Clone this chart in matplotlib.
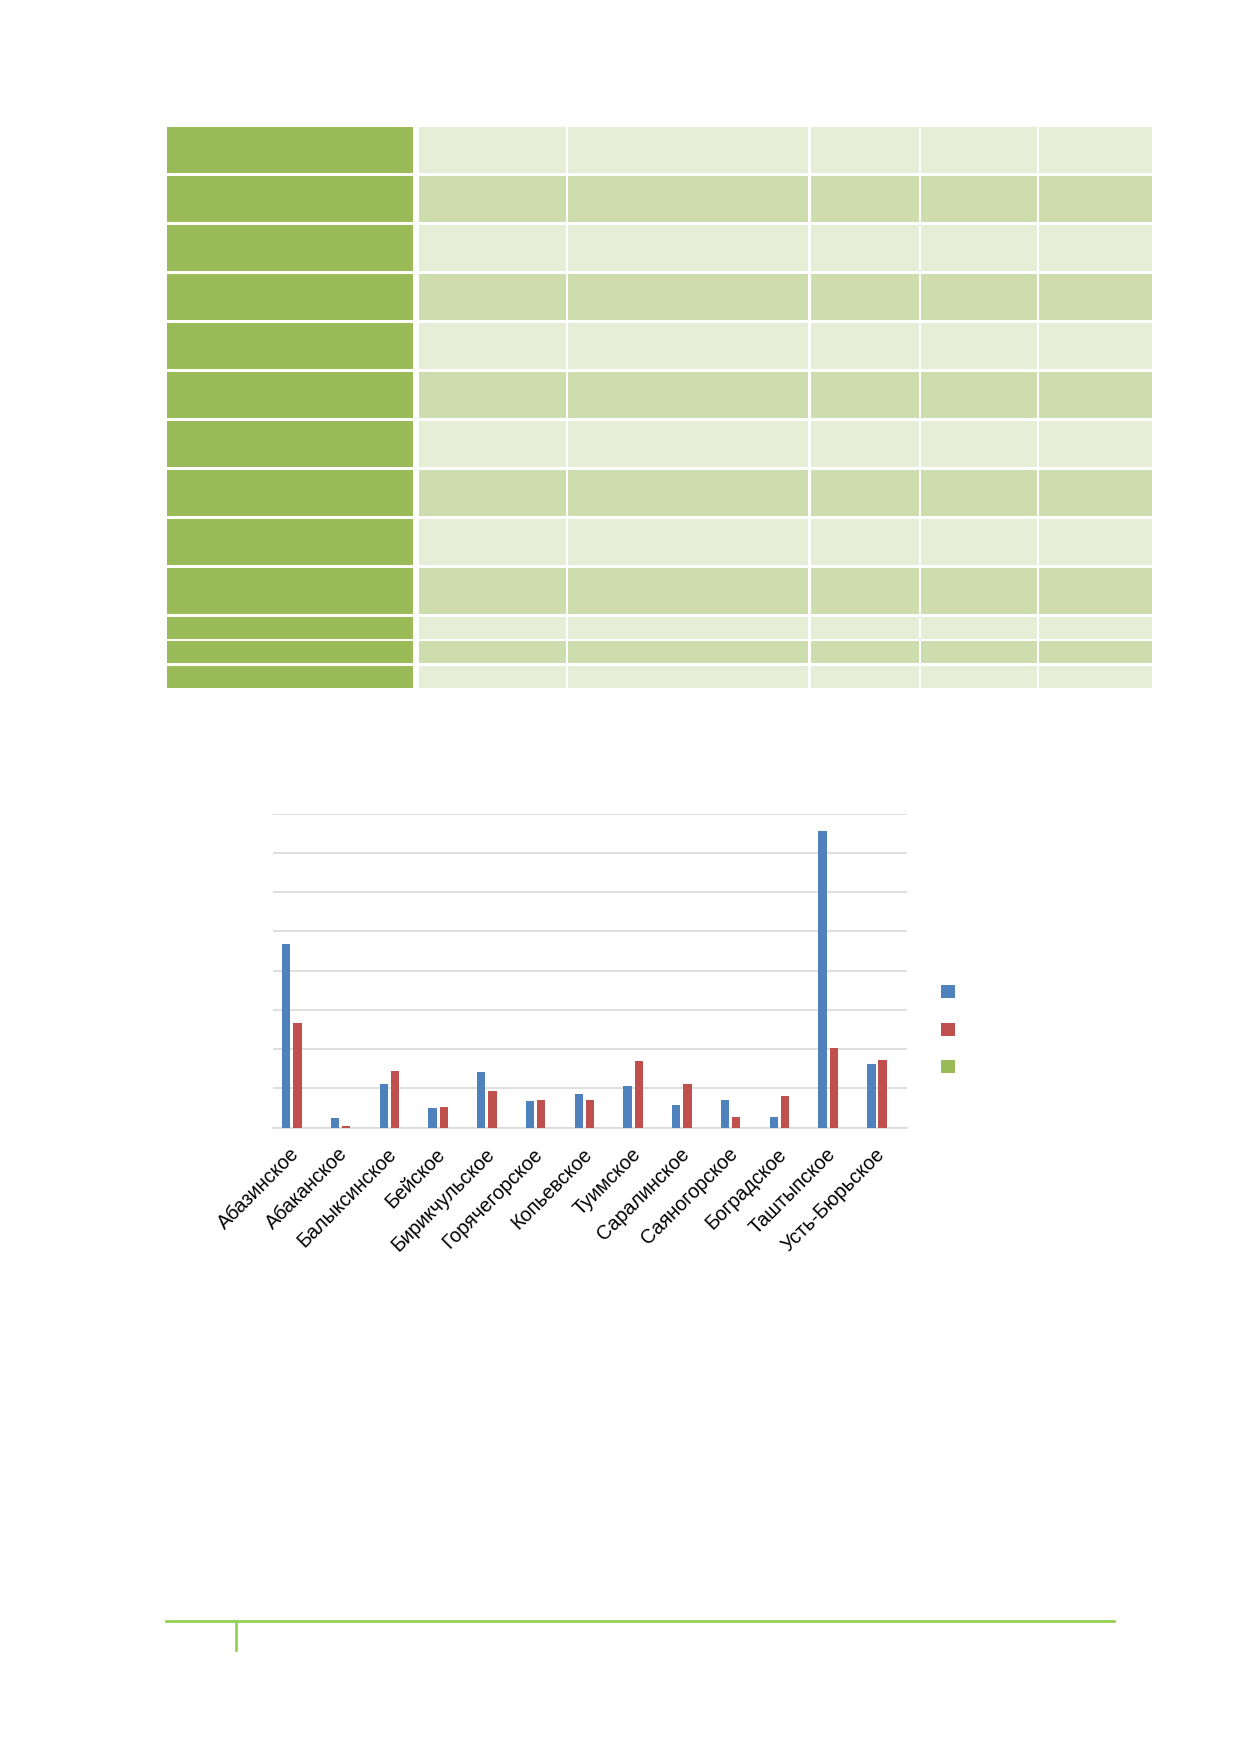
import numpy as np
import matplotlib.pyplot as plt
import matplotlib.transforms as mtransforms
from matplotlib.patches import Rectangle
from matplotlib.lines import Line2D

plt.rcParams['font.family'] = ['Liberation Sans', 'DejaVu Sans']

# данные диаграммы (подписи оси Y и легенды на образце пустые)
poseleniya = ['Абазинское', 'Абаканское', 'Балыксинское', 'Бейское', 'Бирикчульское',
              'Горячегорское', 'Копьевское', 'Туимское', 'Саралинское', 'Саяногорское',
              'Боградское', 'Таштыпское', 'Усть-Бюрьское']
ryad1 = [4.68, 0.24, 1.12, 0.49, 1.41, 0.68, 0.86, 1.07, 0.59, 0.71, 0.27, 7.55, 1.63]
ryad2 = [2.68, 0.04, 1.45, 0.52, 0.93, 0.71, 0.70, 1.70, 1.11, 0.27, 0.81, 2.04, 1.72]
ryad3 = [0, 0, 0, 0, 0, 0, 0, 0, 0, 0, 0, 0, 0]
y_max = 8

# таблица без текста: 10 высоких строк и 3 низких
n_high = 10
n_low = 3

W, H = 1239, 1752
fig = plt.figure(figsize=(W / 150, H / 150), dpi=150)

# "страница" в пикселях для таблицы и колонтитула
page = fig.add_axes([0, 0, 1, 1])
page.set_xlim(0, W)
page.set_ylim(H, 0)
page.axis('off')

col_edges = [(418.7, 566.0), (568.0, 808.0), (810.7, 918.7), (921.3, 1036.7), (1039.0, 1151.7)]
row_boxes = [(126.7 + 49.0 * i, 46.5) for i in range(n_high)]
row_boxes += [(616.7 + 24.5 * i, 22.0) for i in range(n_low)]

for i, (top, h) in enumerate(row_boxes):
    page.add_patch(Rectangle((166.7, top), 246.0, h, color='#9BBB59', lw=0))
    fill = '#E6EED8' if i % 2 == 0 else '#CEDDAD'
    for x0, x1 in col_edges:
        page.add_patch(Rectangle((x0, top), x1 - x0, h, color=fill, lw=0))

# колонтитул
page.add_line(Line2D([166, 1114], [1621.3, 1621.3], color='#92D050', lw=1.3))
page.add_line(Line2D([236, 236], [1621.3, 1650], color='#92D050', lw=1.3))

# диаграмма
ax = fig.add_axes([273 / W, 1 - 1127.7 / H, (907 - 273) / W, (1127.7 - 813.7) / H])
x = np.arange(len(poseleniya))
w = 0.17
step = 0.23
b1 = ax.bar(x - step, ryad1, w, color='#4F81BD', zorder=3)
b2 = ax.bar(x, ryad2, w, color='#C0504D', zorder=3)
b3 = ax.bar(x + step, ryad3, w, color='#9BBB59', zorder=3)

ax.set_xlim(-0.5, len(poseleniya) - 0.5)
ax.set_ylim(0, y_max)
ax.set_yticks(np.arange(0, y_max + 1, 1))
ax.yaxis.grid(True, color='#D9D9D9', lw=0.8, zorder=0)
ax.set_yticklabels([])
ax.tick_params(axis='y', length=0)
for s in ['top', 'right', 'left']:
    ax.spines[s].set_visible(False)
ax.spines['bottom'].set_color('#D9D9D9')
ax.spines['bottom'].set_linewidth(0.8)

ax.set_xticks(x)
ax.set_xticklabels(poseleniya, rotation=45, ha='right', va='center', rotation_mode='anchor',
                   fontsize=9.5, color='black')
ax.tick_params(axis='x', length=0, pad=9)
sdvig = mtransforms.ScaledTranslation(-0.6 / 72, -2.2 / 72, fig.dpi_scale_trans)
for lbl in ax.get_xticklabels():
    lbl.set_transform(lbl.get_transform() + sdvig)

leg = ax.legend([b1, b2, b3], ['', '', ''], loc='upper left',
                bbox_to_anchor=(941 / W, 1 - 985 / H), bbox_transform=fig.transFigure,
                frameon=False, fontsize=8, handlelength=0.85, handleheight=0.85,
                labelspacing=1.33, borderpad=0, borderaxespad=0, handletextpad=0)

fig.savefig('out.png', dpi=150)
